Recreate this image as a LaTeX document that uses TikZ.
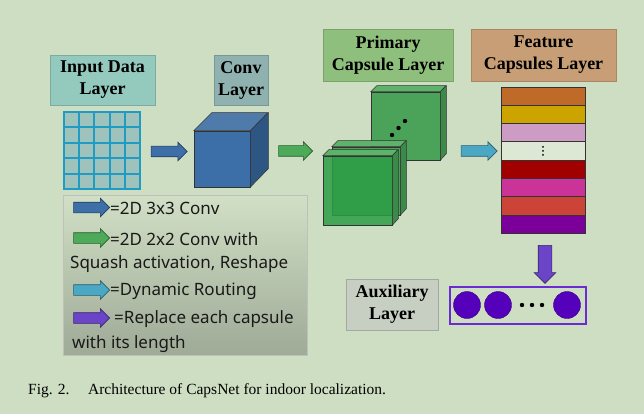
\documentclass[tikz,border=0pt]{standalone}
\usepackage{fontspec}
\setmainfont{Liberation Serif}
\setsansfont{Noto Sans}
\usetikzlibrary{shapes.arrows,calc,positioning}
\definecolor{bgsage}{HTML}{CEDEC2}
\definecolor{inputlbl}{HTML}{94C9BD}
\definecolor{convlbl}{HTML}{8FB2B0}
\definecolor{primlbl}{HTML}{8FBF7C}
\definecolor{featlbl}{HTML}{C89E76}
\definecolor{auxlbl}{HTML}{C6CFC2}
\definecolor{gridline}{HTML}{1F9BC4}
\definecolor{gridcell}{HTML}{9DC3BC}
\definecolor{convblue}{HTML}{3C6EA8}
\definecolor{convtop}{HTML}{4F7BAA}
\definecolor{convside}{HTML}{2E5683}
\definecolor{capgreen}{HTML}{4BA35A}
\definecolor{captop}{HTML}{5CB369}
\definecolor{capside}{HTML}{3C8A4A}
\definecolor{capfront}{HTML}{2C9E46}
\definecolor{arrblue}{HTML}{3E6FA8}
\definecolor{arrgreen}{HTML}{4CAA58}
\definecolor{arrcyan}{HTML}{4BA8C4}
\definecolor{arrpurple}{HTML}{6A45C8}
\definecolor{dotpurple}{HTML}{5500BB}
\definecolor{boxpurple}{HTML}{6A2BD0}
\definecolor{barA}{HTML}{C06A2A}
\definecolor{barB}{HTML}{CCA400}
\definecolor{barC}{HTML}{CC9CC4}
\definecolor{barD}{HTML}{DDE8D4}
\definecolor{barE}{HTML}{A00000}
\definecolor{barF}{HTML}{CC3399}
\definecolor{barG}{HTML}{CC4438}
\definecolor{barH}{HTML}{7B0099}
\newcommand{\LblFont}{\fontsize{18}{22}\selectfont\bfseries}
\newcommand{\KeyFont}{\sffamily\fontsize{17}{19}\selectfont}

\begin{document}
\begin{tikzpicture}[x=1pt, y=-1pt,
  lbl/.style={draw=#1!85!black, fill=#1, line width=0.4pt, align=center,
              font=\LblFont, inner sep=0pt},
  blockarrow/.style={single arrow, draw=#1!55!black, fill=#1, line width=0.6pt,
                     inner xsep=0pt, inner ysep=5pt, single arrow head extend=4pt,
                     minimum height=36pt},
  face/.style={draw=black!80, line width=0.5pt, inner sep=0pt},
  keytext/.style={anchor=west, font=\KeyFont, text=black!90, inner sep=0pt},
  capdot/.style={circle, fill=dotpurple, draw=dotpurple!70!black,
                 line width=0.4pt, minimum size=27pt, inner sep=0pt}
]
\fill[bgsage] (0,0) rectangle (644,414);
\useasboundingbox (0,0) rectangle (644,414);

% Layer titles
\node[lbl=inputlbl, minimum width=105, minimum height=50] (inlbl) at (102.5,80) {Input Data\\Layer};
\node[lbl=convlbl, minimum width=54, minimum height=50] (convlbl) at (241,80) {Conv\\Layer};
\node[lbl=primlbl, minimum width=130, minimum height=52] (primlbl) at (388,55) {Primary\\Capsule Layer};
\node[lbl=featlbl, minimum width=145, minimum height=52] (featlbl) at (543.5,55) {Feature\\Capsules Layer};
\node[lbl=auxlbl, draw=black!35, minimum width=92, minimum height=51] (auxlbl) at (392,304.5) {Auxiliary\\Layer};

% Input grid
\node[draw=gridline, fill=gridcell, line width=2pt, minimum size=76, inner sep=0pt] (grid) at (102,150.5) {};
\foreach \i in {1,...,4} {
  \draw[gridline, line width=2pt] ($(grid.north west)!\i/5!(grid.north east)$) -- ($(grid.south west)!\i/5!(grid.south east)$);
  \draw[gridline, line width=2pt] ($(grid.north west)!\i/5!(grid.south west)$) -- ($(grid.north east)!\i/5!(grid.south east)$);
}

% Conv cube
\node[face, fill=convblue, minimum width=56, minimum height=56] (convf) at (222,159) {};
\draw[face, fill=convtop] (convf.north west) -- ++(18,-18) -- ++(56,0) -- (convf.north east) -- cycle;
\draw[face, fill=convside] (convf.north east) -- ++(18,-18) -- ++(0,56) -- (convf.south east) -- cycle;

% Primary capsule cubes
\node[face, fill=capgreen, minimum width=69, minimum height=68] (capc) at (405.5,126) {};
\draw[face, fill=captop] (capc.north west) -- ++(6,-6) -- ++(69,0) -- (capc.north east) -- cycle;
\draw[face, fill=capside] (capc.north east) -- ++(6,-6) -- ++(0,68) -- (capc.south east) -- cycle;
\foreach \p in {(392,135),(398.5,128),(405,121)}
  \fill[black] \p circle (2.2);
\node[face, fill=capgreen, minimum width=68, minimum height=68] (capb) at (366,181) {};
\draw[face, fill=captop] (capb.north west) -- ++(6,-6) -- ++(68,0) -- (capb.north east) -- cycle;
\draw[face, fill=capside] (capb.north east) -- ++(6,-6) -- ++(0,68) -- (capb.south east) -- cycle;
\node[face, fill=capfront, fill opacity=0.85, minimum width=69, minimum height=69] (capa) at (357.5,190.5) {};
\draw[face, fill=captop] (capa.north west) -- ++(6,-6) -- ++(69,0) -- (capa.north east) -- cycle;
\draw[face, fill=capside] (capa.north east) -- ++(6,-6) -- ++(0,69) -- (capa.south east) -- cycle;

% Feature capsules
\foreach \c [count=\i] in {barA,barB,barC,barD,barE,barF,barG,barH}
  \node[face, fill=\c, minimum width=84, minimum height=18.25] (bar\i) at (543,{87+18.25*(\i-0.5)}) {};
\foreach \d in {-4,0,4}
  \fill[black] ($(bar4.center)+(0,\d)$) circle (1);

% Auxiliary output
\node[draw=boxpurple, line width=1.4pt, minimum width=136, minimum height=37, inner sep=0pt] (outbox) at (518,305.5) {};
\node[capdot] (cap1) at (467,305) {};
\node[capdot] (cap2) at (498,305) {};
\node[capdot] (capn) at (567,305) {};
\foreach \x in {522,532,542}
  \fill[black] (\x,305) circle (2.2);

% Block arrows between layers
\node[blockarrow=arrblue] (a1) at (166.5,151.5) {};
\node[blockarrow=arrgreen, minimum height=34pt] (a2) at (293,151) {};
\node[blockarrow=arrcyan] (a3) at (476.5,151) {};
\node[blockarrow=arrpurple, rotate=-90, inner ysep=6.5pt, minimum height=38pt] (a4) at (545,261) {};

% Legend
\node[draw=black!25, line width=0.4pt, top color=bgsage!95!white, bottom color=black!20!bgsage!85!gray,
      minimum width=244, minimum height=160, inner sep=0pt] (legend) at (185,275) {};
\node[blockarrow=arrblue] (k1) at (89,207.5) {};
\node[keytext] (t1) at (110,208) {=2D 3x3 Conv};
\node[blockarrow=arrgreen] (k2) at (89,238) {};
\node[keytext] (t2) at (110,239) {=2D 2x2 Conv with};
\node[keytext] (t2b) at (70,264) {Squash activation, Reshape};
\node[blockarrow=arrcyan] (k3) at (89,290) {};
\node[keytext] (t3) at (110,291) {=Dynamic Routing};
\node[blockarrow=arrpurple] (k4) at (89,318) {};
\node[keytext] (t4) at (114,319) {=Replace each capsule};
\node[keytext] (t4b) at (72,344) {with its length};

% Caption
\node[anchor=west, inner sep=0pt, font=\fontsize{15.5}{17}\selectfont] (caption) at (28,391)
  {Fig. 2.\hspace{1.2em}Architecture of CapsNet for indoor localization.};
\end{tikzpicture}
\end{document}
